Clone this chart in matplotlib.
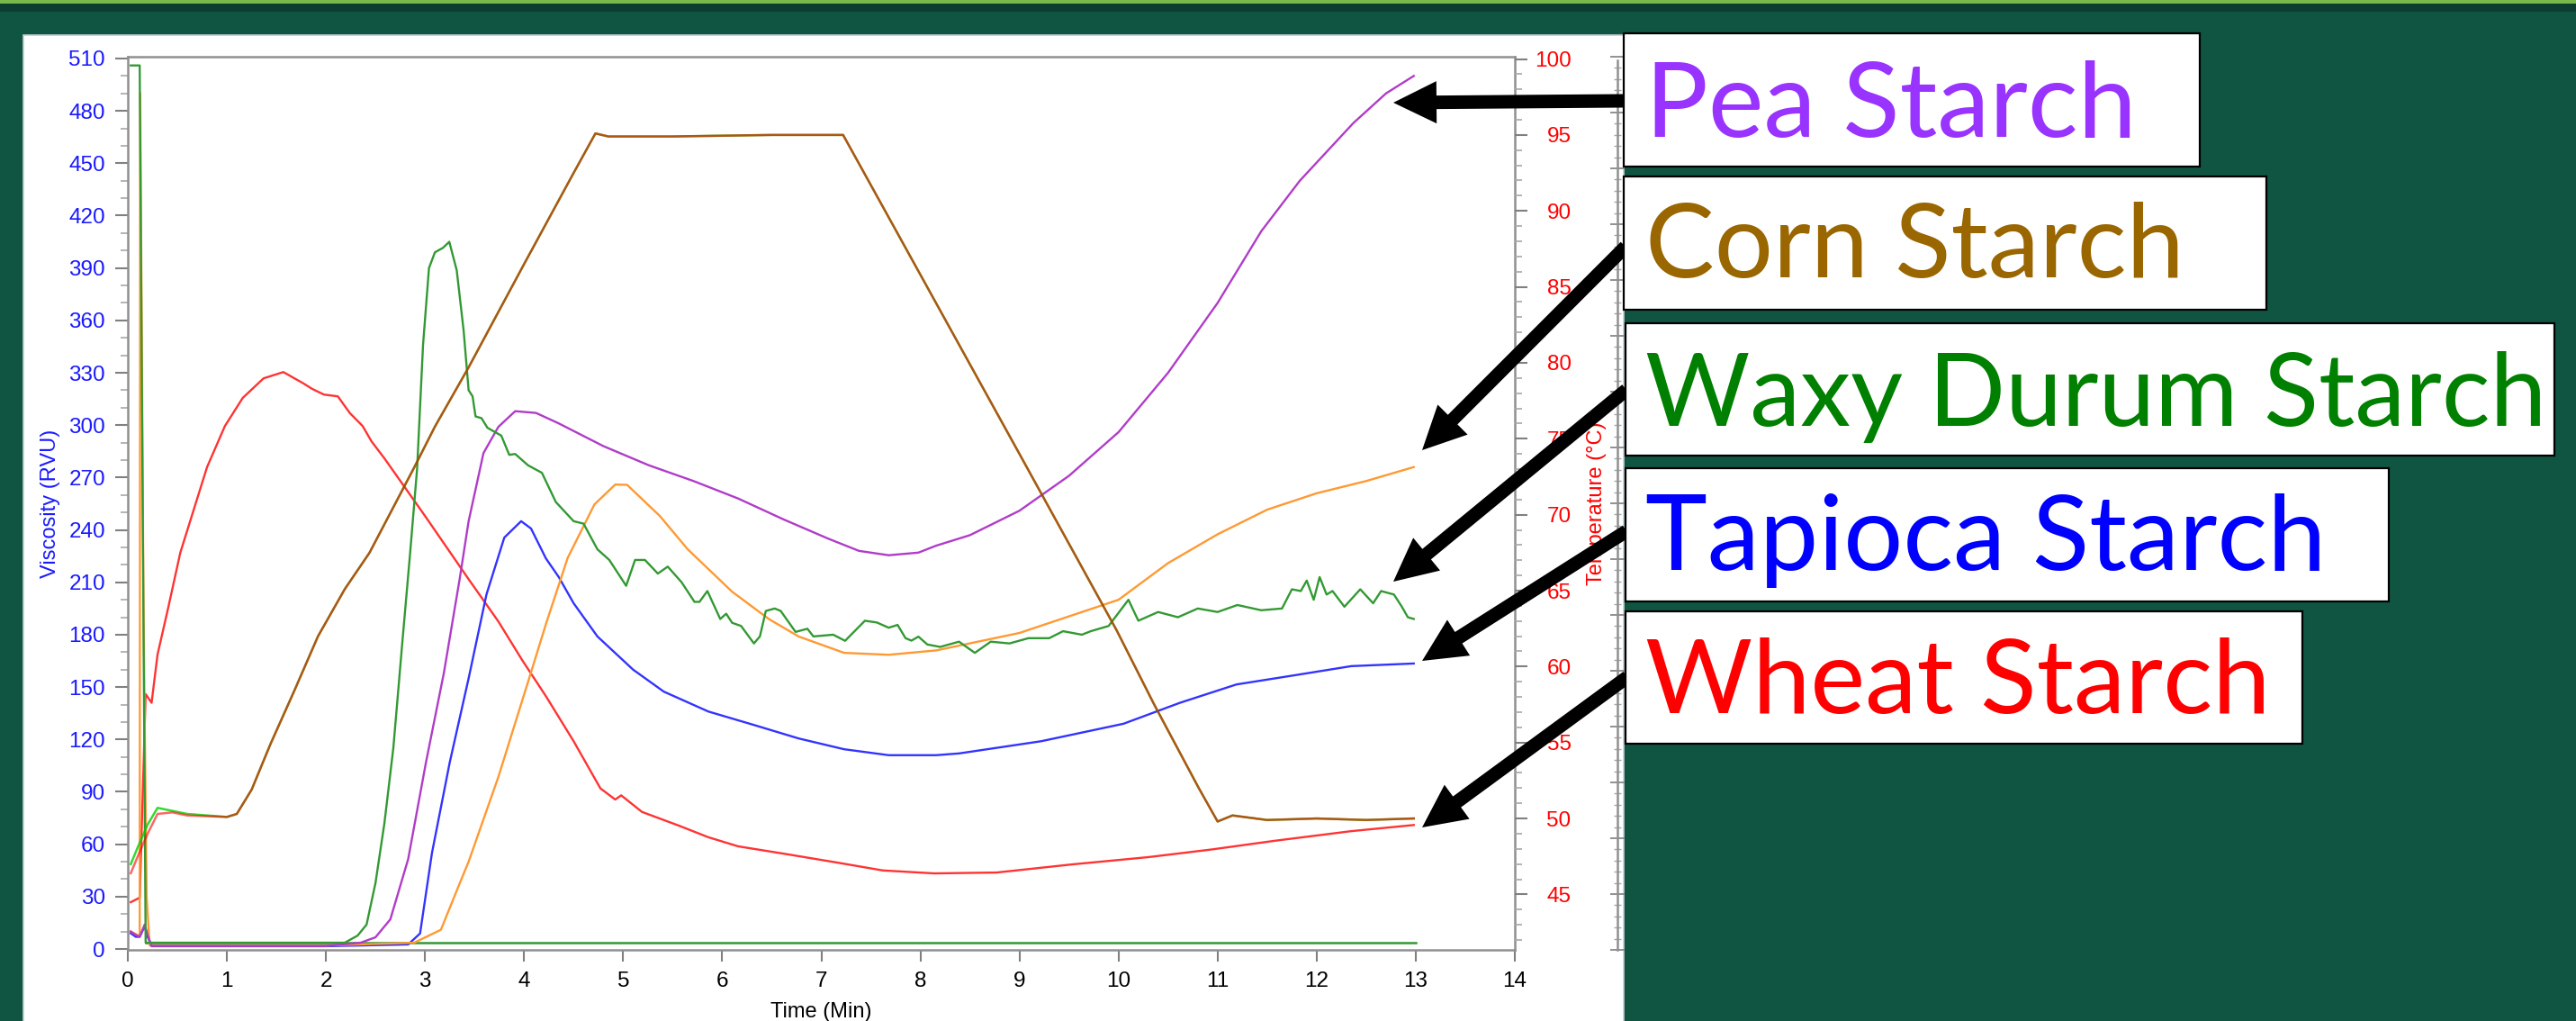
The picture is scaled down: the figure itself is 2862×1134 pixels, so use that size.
import matplotlib
matplotlib.use("Agg")
import matplotlib.pyplot as plt
from matplotlib.patches import Rectangle, FancyArrow
from matplotlib.ticker import MultipleLocator

W, H = 2862, 1134

# ---- data (time in min, viscosity in RVU) ----
pea_t = [0.03, 0.08, 0.12, 0.17, 0.20, 0.24, 1.0, 2.0, 2.35, 2.5, 2.65, 2.83, 3.01, 3.19,
         3.35, 3.44, 3.59, 3.74, 3.91, 4.12, 4.35, 4.8, 5.26, 5.71, 6.16, 6.62, 7.07, 7.38,
         7.68, 7.98, 8.16, 8.5, 9.0, 9.5, 10.0, 10.5, 11.0, 11.44, 11.83, 12.37, 12.7, 12.98]
pea_v = [10, 8, 7, 14, 8, 1.8, 1.8, 1.8, 3.6, 6.7, 17, 51.5, 107, 158,
         212, 245, 284, 299, 308, 307, 301, 288, 277, 268, 258, 246, 235, 228,
         225.5, 227, 231, 237, 251, 271, 296, 330, 370, 411, 440, 473, 490, 500]

corn_t = [0.03, 0.10, 0.12, 0.125, 0.16, 0.19, 0.22, 1.0, 2.0, 2.89, 3.16, 3.35, 3.44, 3.74,
          4.04, 4.22, 4.44, 4.71, 4.92, 5.04, 5.37, 5.65, 6.1, 6.47, 6.77, 7.23, 7.68, 8.16,
          9.0, 10.0, 10.5, 11.0, 11.5, 12.0, 12.5, 12.98]
corn_v = [10, 8, 8, 490, 185, 30, 2, 2, 2, 3.6, 11, 37.6, 50, 98.5,
          153, 186, 224, 254.6, 266, 265.8, 248, 229, 204.6, 189, 179, 169.6, 168.5, 171,
          181, 200, 221, 237.5, 251.6, 261, 268, 276]

waxy_t = [0.03, 0.12, 0.18, 1.0, 2.19, 2.32, 2.41, 2.5, 2.59, 2.68, 2.77, 2.85, 2.92, 2.98,
          3.04, 3.1, 3.18, 3.245, 3.32, 3.39, 3.44, 3.48, 3.51, 3.57, 3.63, 3.77, 3.85, 3.91,
          4.04, 4.18, 4.32, 4.5, 4.6, 4.74, 4.86, 5.03, 5.12, 5.22, 5.35, 5.45, 5.59, 5.72,
          5.77, 5.85, 5.98, 6.04, 6.1, 6.19, 6.32, 6.38, 6.44, 6.53, 6.59, 6.74, 6.86, 6.92,
          7.12, 7.24, 7.44, 7.56, 7.68, 7.77, 7.85, 7.91, 7.98, 8.07, 8.2, 8.39, 8.55, 8.71,
          8.9, 9.09, 9.3, 9.44, 9.63, 9.72, 9.9, 10.1, 10.2, 10.4, 10.6, 10.8, 11.0, 11.2,
          11.44, 11.65, 11.75, 11.84, 11.9, 11.97, 12.03, 12.1, 12.16, 12.28, 12.44, 12.57,
          12.65, 12.78, 12.86, 12.92, 12.98]
waxy_v = [506, 506, 3.6, 3.6, 3.6, 7.7, 14, 37.8, 72, 115, 175, 227, 275, 346,
          390, 399, 401.5, 405, 388.7, 354, 320, 316.5, 305, 304, 298.5, 294, 283, 283.5,
          277, 272.7, 256, 245, 243.6, 228.9, 222.8, 208, 222.8, 222.8, 215, 219, 210, 198.8,
          198.8, 205, 189, 192, 186.8, 185, 175, 179, 193.6, 195, 193.6, 181.6, 183.4, 179,
          180, 176.5, 188, 187, 184, 185.6, 178, 176.6, 178.9, 174.4, 173, 176, 169.6, 176,
          175, 178, 178, 182, 180, 182, 185, 200, 188, 193, 190, 195, 193, 197,
          194, 195, 206, 205, 211, 200, 213, 203, 205, 196, 206, 198,
          205, 203, 196, 190, 189]

flat_t = [0.18, 13.0]
flat_v = [3.5, 3.5]

tapioca_t = [0.03, 0.08, 0.12, 0.17, 0.20, 0.24, 1.0, 2.0, 2.83, 2.95, 3.07, 3.25, 3.44, 3.62,
             3.8, 3.97, 4.07, 4.22, 4.35, 4.5, 4.74, 5.1, 5.41, 5.86, 6.32, 6.77, 7.23, 7.68,
             8.16, 8.39, 9.22, 10.05, 10.62, 11.19, 11.77, 12.35, 12.98]
tapioca_v = [9, 7, 7, 13, 7, 1.6, 1.6, 1.6, 2.6, 8.9, 55, 107, 155, 203,
             235.6, 245, 240.8, 223.7, 213, 198, 179, 160, 147.4, 136, 128.3, 120.6, 114.4, 111,
             111, 112, 119, 129, 141, 151.5, 156.7, 162, 163.5]

wheat_t = [0.03, 0.12, 0.18, 0.24, 0.30, 0.41, 0.53, 0.80, 0.98, 1.16, 1.37, 1.57, 1.77, 1.86,
           1.98, 2.12, 2.24, 2.37, 2.46, 2.59, 3.0, 3.44, 3.74, 3.98, 4.22, 4.5, 4.59, 4.77,
           4.92, 4.98, 5.19, 5.56, 5.86, 6.16, 6.62, 7.16, 7.62, 8.14, 8.77, 9.54, 10.3, 10.94,
           11.58, 12.35, 12.98]
wheat_v = [26.8, 29.4, 146, 141, 168.6, 196, 227, 276, 299.5, 315.6, 326.8, 330.4, 324, 320.8,
           317.5, 316.5, 307, 299.5, 290.7, 281, 248, 211.8, 187.6, 165.5, 144.8, 119, 110, 92,
           85.6, 88, 78.5, 70.7, 64, 58.8, 54.6, 49.5, 45, 43.3, 43.8, 48.5, 52.6, 57,
           62, 67.5, 71]

# temperature profile (deg C), two overlapping traces
temp_t = [0.03, 0.1, 0.2, 0.3, 0.45, 0.6, 0.8, 1.0, 1.1, 1.25, 1.44, 1.68, 1.92, 2.19, 2.44,
          2.89, 3.1, 3.44, 4.0, 4.5, 4.72, 4.85, 5.5, 6.5, 7.22, 7.5, 8.0, 9.0, 9.98, 10.36,
          10.81, 11.0, 11.15, 11.5, 12.0, 12.5, 12.98]
temp_red = [46.4, 47.5, 49.0, 50.3, 50.4, 50.2, 50.15, 50.1, 50.3, 51.9, 54.9, 58.4, 62.0, 65.1,
            67.5, 73.1, 75.8, 79.7, 86.5, 92.5, 95.1, 94.9, 94.9, 95.0, 95.0, 91.7, 85.8, 74.0,
            62.4, 57.5, 52.0, 49.8, 50.2, 49.9, 50.0, 49.9, 50.0]
temp_green = [47.0, 48.1, 49.6, 50.7, 50.5, 50.3, 50.2, 50.1, 50.3, 51.9, 54.9, 58.4, 62.0, 65.1,
              67.5, 73.1, 75.8, 79.7, 86.5, 92.5, 95.1, 94.9, 94.9, 95.0, 95.0, 91.7, 85.8, 74.0,
              62.4, 57.5, 52.0, 49.8, 50.2, 49.9, 50.0, 49.9, 50.0]

label_names = ["Pea Starch", "Corn Starch", "Waxy Durum Starch", "Tapioca Starch", "Wheat Starch"]
label_colors = ["#9933ff", "#996600", "#008000", "#0000ff", "#ff0000"]

plt.rcParams['font.family'] = ['Liberation Sans', 'DejaVu Sans']

fig = plt.figure(figsize=(W / 100, H / 100), dpi=100)
fig.patch.set_facecolor('#105541')


def px_rect(x0, y0, x1, y1, **kw):
    # pixel box with origin at the top-left of the image
    r = Rectangle((x0 / W, 1 - y1 / H), (x1 - x0) / W, (y1 - y0) / H,
                  transform=fig.transFigure, **kw)
    fig.add_artist(r)
    return r


# slide background bits
px_rect(0, 0, W, 4, facecolor='#79b84a', edgecolor='none', zorder=-10)
px_rect(0, 4, W, 13, facecolor='#0c3d2e', edgecolor='none', zorder=-10)
px_rect(26, 39, 1804, H + 5, facecolor='white', edgecolor='#c3ccd4', lw=1.2, zorder=-9)

ax = fig.add_axes([142 / W, 1 - 1055 / H, (1683 - 142) / W, (1055 - 63) / H])
ax.set_facecolor('white')

ax.plot(flat_t, flat_v, color='#339933', lw=1.8)
ax.plot(wheat_t, wheat_v, color='#ff3333', lw=1.7)
ax.plot(tapioca_t, tapioca_v, color='#3333ff', lw=1.7)
ax.plot(corn_t, corn_v, color='#ff9933', lw=1.7)
ax.plot(pea_t, pea_v, color='#b03cc8', lw=1.7)
ax.plot(waxy_t, waxy_v, color='#339933', lw=1.7)

ax.set_xlim(0, 14)
ax.set_ylim(-0.5, 511)
ax.xaxis.set_major_locator(MultipleLocator(1))
ax.yaxis.set_major_locator(MultipleLocator(30))
ax.yaxis.set_minor_locator(MultipleLocator(10))
ax.tick_params(axis='y', which='major', length=10, width=1.5, color='#808080',
               labelcolor='#1a1aff', labelsize=17.5, pad=8)
ax.tick_params(axis='y', which='minor', length=6, width=1.2, color='#a8a8a8')
ax.tick_params(axis='x', which='major', length=9, width=1.5, color='#808080',
               labelcolor='black', labelsize=17.5, pad=8)
for sp in ax.spines.values():
    sp.set_color('#909090')
    sp.set_linewidth(1.8)

ax.set_xlabel('Time (Min)', fontsize=17, color='black')
ax.xaxis.set_label_coords(0.5, -0.0585)
ax.set_ylabel('Viscosity (RVU)', fontsize=17, color='#1a1aff')
ax.yaxis.set_label_coords(-0.0487, 0.5)

# temperature axis
ax2 = ax.twinx()
ax2.plot(temp_t, temp_green, color='#00d000', lw=1.8, alpha=0.8)
ax2.plot(temp_t, temp_red, color='#ff0000', lw=1.8, alpha=0.6)
ax2.set_ylim(41.35, 100.15)
ax2.yaxis.set_major_locator(MultipleLocator(5))
ax2.yaxis.set_minor_locator(MultipleLocator(1))
ax2.tick_params(axis='y', which='major', length=10, width=1.5, color='#808080',
                labelcolor='red', labelsize=17.5, pad=35)
ax2.tick_params(axis='y', which='minor', length=6, width=1.2, color='#a8a8a8')
for sp in ax2.spines.values():
    sp.set_visible(False)
for lab in ax2.get_yticklabels():
    lab.set_horizontalalignment('right')
ax2.set_ylabel('Temperature (°C)', fontsize=17, color='red')
ax2.yaxis.set_label_coords(1.0519, 0.5)

# third (unlabelled) axis at the panel edge
ax3 = ax.twinx()
for sp in ax3.spines.values():
    sp.set_visible(False)
ax3.spines['right'].set_visible(True)
ax3.spines['right'].set_position(('axes', (1797 - 142) / 1541))
ax3.spines['right'].set_color('#909090')
ax3.spines['right'].set_linewidth(1.8)
ax3.set_ylim(0, 16)
ax3.spines['right'].set_bounds(0, 15.94)
ax3.yaxis.set_major_locator(MultipleLocator(1))
ax3.yaxis.set_minor_locator(MultipleLocator(0.2))
ax3.tick_params(axis='y', which='major', direction='inout', length=12, width=1.4,
                color='#909090', labelright=False)
ax3.tick_params(axis='y', which='minor', direction='inout', length=6, width=1.0,
                color='#a8a8a8')

# label boxes and arrows
box_px = [(1804, 37, 2444, 185), (1804, 196, 2518, 344), (1806, 359, 2838, 506),
          (1806, 520, 2654, 668), (1806, 679, 2558, 826)]
baselines = [152, 308, 473, 633, 792]
text_widths = [551, 599, 1002, 776, 695]
arrow_tails = [(1804, 112), (1806, 274), (1807, 433), (1807, 590), (1808, 752)]
arrow_tips = [(1548, 114), (1580, 500), (1548, 646), (1580, 734), (1580, 919)]

for (x0, y0), (x1, y1) in zip(arrow_tails, arrow_tips):
    a = FancyArrow(x0 / 100, (H - y0) / 100, (x1 - x0) / 100, -(y1 - y0) / 100,
                   width=0.15, head_width=0.47, head_length=0.48,
                   length_includes_head=True, color='black', lw=0,
                   transform=fig.dpi_scale_trans, zorder=4)
    fig.add_artist(a)

renderer = fig.canvas.get_renderer()
base_fs = 75
for name, col, (x0, y0, x1, y1), bl, tw in zip(label_names, label_colors, box_px,
                                               baselines, text_widths):
    px_rect(x0, y0, x1, y1, facecolor='white', edgecolor='black', lw=1.6, zorder=5)
    t = fig.text(1828 / W, 1 - bl / H, name, color=col, fontsize=base_fs,
                 family=['Lato', 'DejaVu Sans'], ha='left', va='baseline', zorder=6)
    w = t.get_window_extent(renderer).width
    k = min(max(tw / w, 0.88), 1.12)
    t.set_fontsize(base_fs * k)

fig.savefig('out.png', dpi=100, facecolor=fig.get_facecolor())
